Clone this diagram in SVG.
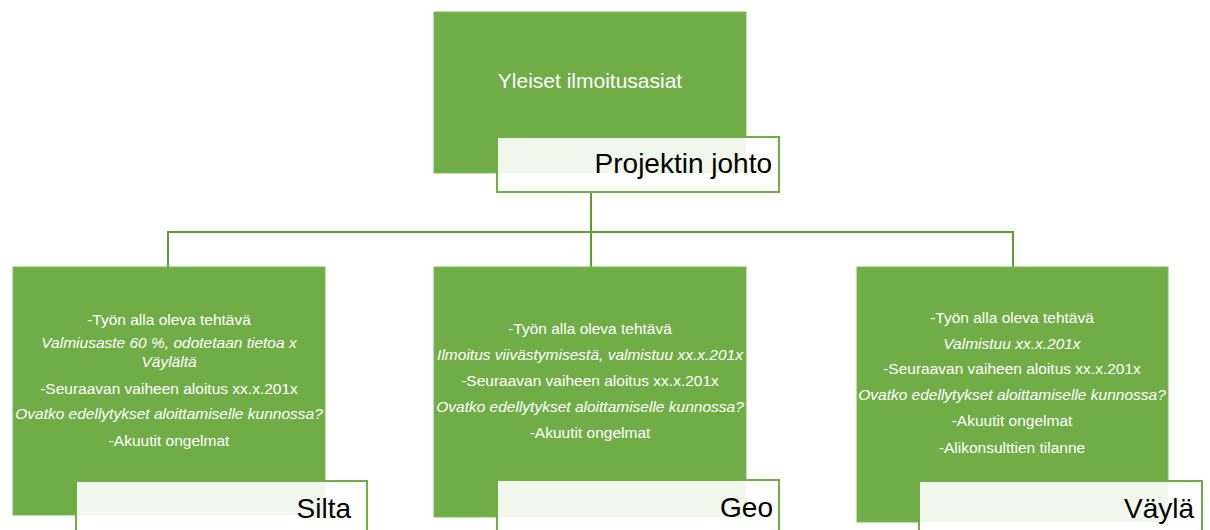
<svg xmlns="http://www.w3.org/2000/svg" width="1210" height="530" viewBox="0 0 1210 530">
<style>
.box{fill:#70ad47;stroke:#7fb95a;stroke-width:1}
.lbl{fill:#ffffff;fill-opacity:0.9;stroke:#70ad47;stroke-width:2}
.body{font-family:"Liberation Sans",Arial,sans-serif;font-size:15.5px;fill:#ffffff;text-anchor:middle}
.it{font-style:italic}
.title{font-family:"Liberation Sans",Arial,sans-serif;font-size:28px;fill:#000000;text-anchor:end}
.conn{fill:none;stroke:#5f9a3c;stroke-width:2}
</style>
<rect width="1210" height="530" fill="#ffffff"/>
<g id="connectors">
<path class="conn" d="M591,193 V267"/>
<path class="conn" d="M168,267 V232 H1013 V267"/>
</g>
<g id="node-projektin-johto">
<rect class="box" x="434" y="12" width="312" height="161"/>
<text x="590" y="88" font-family="Liberation Sans, Arial, sans-serif" font-size="21" fill="#ffffff" text-anchor="middle">Yleiset ilmoitusasiat</text>
<rect class="lbl" x="497" y="137" width="282" height="55"/>
<text class="title" x="772" y="173">Projektin johto</text>
</g>
<g id="node-silta">
<rect class="box" x="13" y="267" width="312" height="248"/>
<text class="body" x="169" y="325">-Työn alla oleva tehtävä</text>
<text class="body it" x="169" y="348">Valmiusaste 60 %, odotetaan tietoa x</text>
<text class="body it" x="169" y="367">Väylältä</text>
<text class="body" x="169" y="394">-Seuraavan vaiheen aloitus xx.x.201x</text>
<text class="body it" x="169" y="419">Ovatko edellytykset aloittamiselle  kunnossa?</text>
<text class="body" x="169" y="446">-Akuutit ongelmat</text>
<rect class="lbl" x="76" y="481" width="291" height="60"/>
<text class="title" x="351" y="518">Silta</text>
</g>
<g id="node-geo">
<rect class="box" x="434" y="267" width="312" height="250"/>
<text class="body" x="590" y="334">-Työn alla oleva tehtävä</text>
<text class="body it" x="590" y="360">Ilmoitus viivästymisestä,  valmistuu xx.x.201x</text>
<text class="body" x="590" y="386">-Seuraavan vaiheen aloitus xx.x.201x</text>
<text class="body it" x="590" y="412">Ovatko edellytykset aloittamiselle  kunnossa?</text>
<text class="body" x="590" y="438">-Akuutit ongelmat</text>
<rect class="lbl" x="497" y="480" width="282" height="60"/>
<text class="title" x="773" y="517">Geo</text>
</g>
<g id="node-vayla">
<rect class="box" x="857" y="267" width="311" height="255"/>
<text class="body" x="1012" y="323">-Työn alla oleva tehtävä</text>
<text class="body it" x="1012" y="349">Valmistuu xx.x.201x</text>
<text class="body" x="1012" y="374">-Seuraavan vaiheen aloitus xx.x.201x</text>
<text class="body it" x="1012" y="400">Ovatko edellytykset aloittamiselle  kunnossa?</text>
<text class="body" x="1012" y="426">-Akuutit ongelmat</text>
<text class="body" x="1012" y="453">-Alikonsulttien tilanne</text>
<rect class="lbl" x="919" y="481" width="283" height="60"/>
<text class="title" x="1194" y="518">Väylä</text>
</g>
</svg>
